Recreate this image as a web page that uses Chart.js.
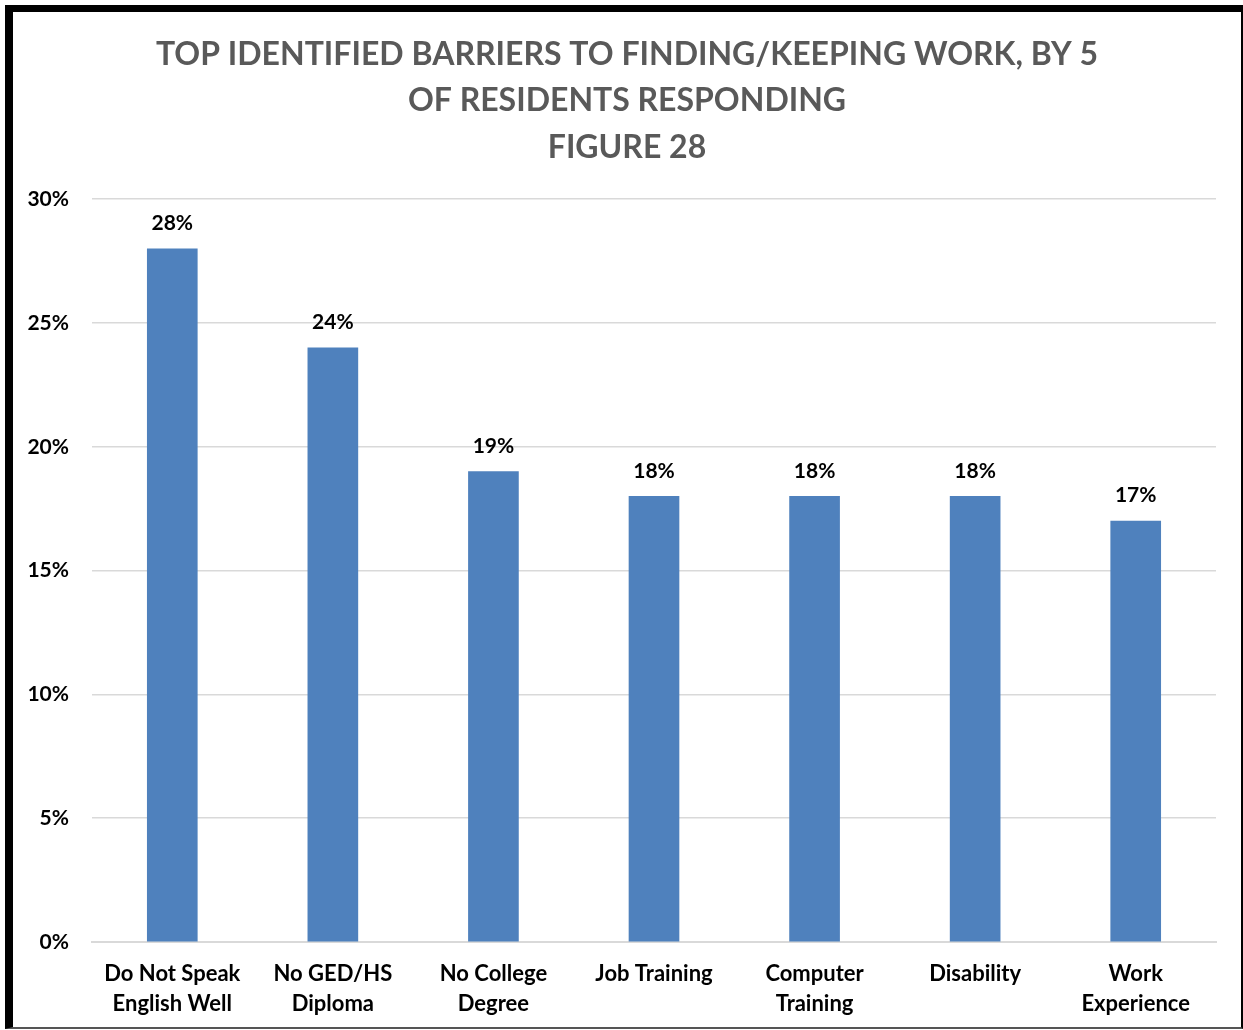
<!DOCTYPE html>
<html>
<head>
<meta charset="utf-8">
<script src="https://cdn.jsdelivr.net/npm/chart.js@4/dist/chart.umd.min.js"></script>
<style>
  html, body { margin: 0; padding: 0; background: #fff; }
  #frame {
    position: absolute; left: 5px; top: 5px;
    width: 1228px; height: 1015px;
    border-left: 8px solid #000; border-top: 7px solid #000;
    border-right: 2px solid #000; border-bottom: 2px solid #555;
  }
  canvas { display: block; }
</style>
</head>
<body>
<div id="frame"><canvas id="barriers" width="1228" height="1015"></canvas></div>
<script>
const categories = [
  ['Do Not Speak', 'English Well'],
  ['No GED/HS', 'Diploma'],
  ['No College', 'Degree'],
  'Job Training',
  ['Computer', 'Training'],
  'Disability',
  ['Work', 'Experience']
];
const percentResponding = [28, 24, 19, 18, 18, 18, 17];
const titleLines = [
  'TOP IDENTIFIED BARRIERS TO FINDING/KEEPING WORK, BY 5',
  'OF RESIDENTS RESPONDING',
  'FIGURE 28'
];

const FONT = 'Lato, "Open Sans", sans-serif';

// draws the value above each bar
const valueLabels = {
  id: 'valueLabels',
  afterDatasetsDraw(chart) {
    const { ctx } = chart;
    const meta = chart.getDatasetMeta(0);
    ctx.save();
    ctx.font = 'bold 21px ' + FONT;
    ctx.fillStyle = '#000';
    ctx.textAlign = 'center';
    ctx.textBaseline = 'bottom';
    meta.data.forEach((bar, i) => {
      ctx.fillText(percentResponding[i] + '%', bar.x, bar.y - 15);
    });
    ctx.restore();
  }
};

new Chart(document.getElementById('barriers'), {
  type: 'bar',
  data: {
    labels: categories,
    datasets: [{
      data: percentResponding,
      backgroundColor: '#4f81bd',
      borderWidth: 0,
      barThickness: 50
    }]
  },
  options: {
    responsive: false,
    animation: false,
    layout: { padding: { left: 0, right: 0, top: 20, bottom: 0 } },
    plugins: {
      legend: { display: false },
      tooltip: { enabled: false },
      title: {
        display: true,
        text: titleLines,
        color: '#595959',
        font: { family: FONT, size: 32, weight: 'bold', lineHeight: 1.44 },
        padding: { top: 0, bottom: 29 }
      }
    },
    scales: {
      x: {
        grid: { display: false },
        border: { display: true, color: '#d9d9d9', width: 2 },
        ticks: {
          color: '#000',
          font: { family: FONT, size: 22, weight: 'bold', lineHeight: 1.36 },
          padding: 9,
          maxRotation: 0,
          autoSkip: false
        },
        afterFit(scale) { scale.height = 85; }
      },
      y: {
        min: 0,
        max: 30,
        grid: { color: '#d9d9d9', lineWidth: 1.5, drawTicks: false },
        border: { display: false },
        ticks: {
          stepSize: 5,
          color: '#000',
          padding: 23,
          font: { family: FONT, size: 21, weight: 'bold' },
          callback: v => v + '%'
        },
        afterFit(scale) { scale.width = 79; }
      },
      // empty right-hand gutter so the plot stops short of the frame
      gutter: {
        type: 'linear',
        position: 'right',
        grid: { display: false },
        border: { display: false },
        ticks: { display: false },
        afterFit(scale) { scale.width = 25; }
      }
    }
  },
  plugins: [valueLabels]
});
</script>
</body>
</html>
